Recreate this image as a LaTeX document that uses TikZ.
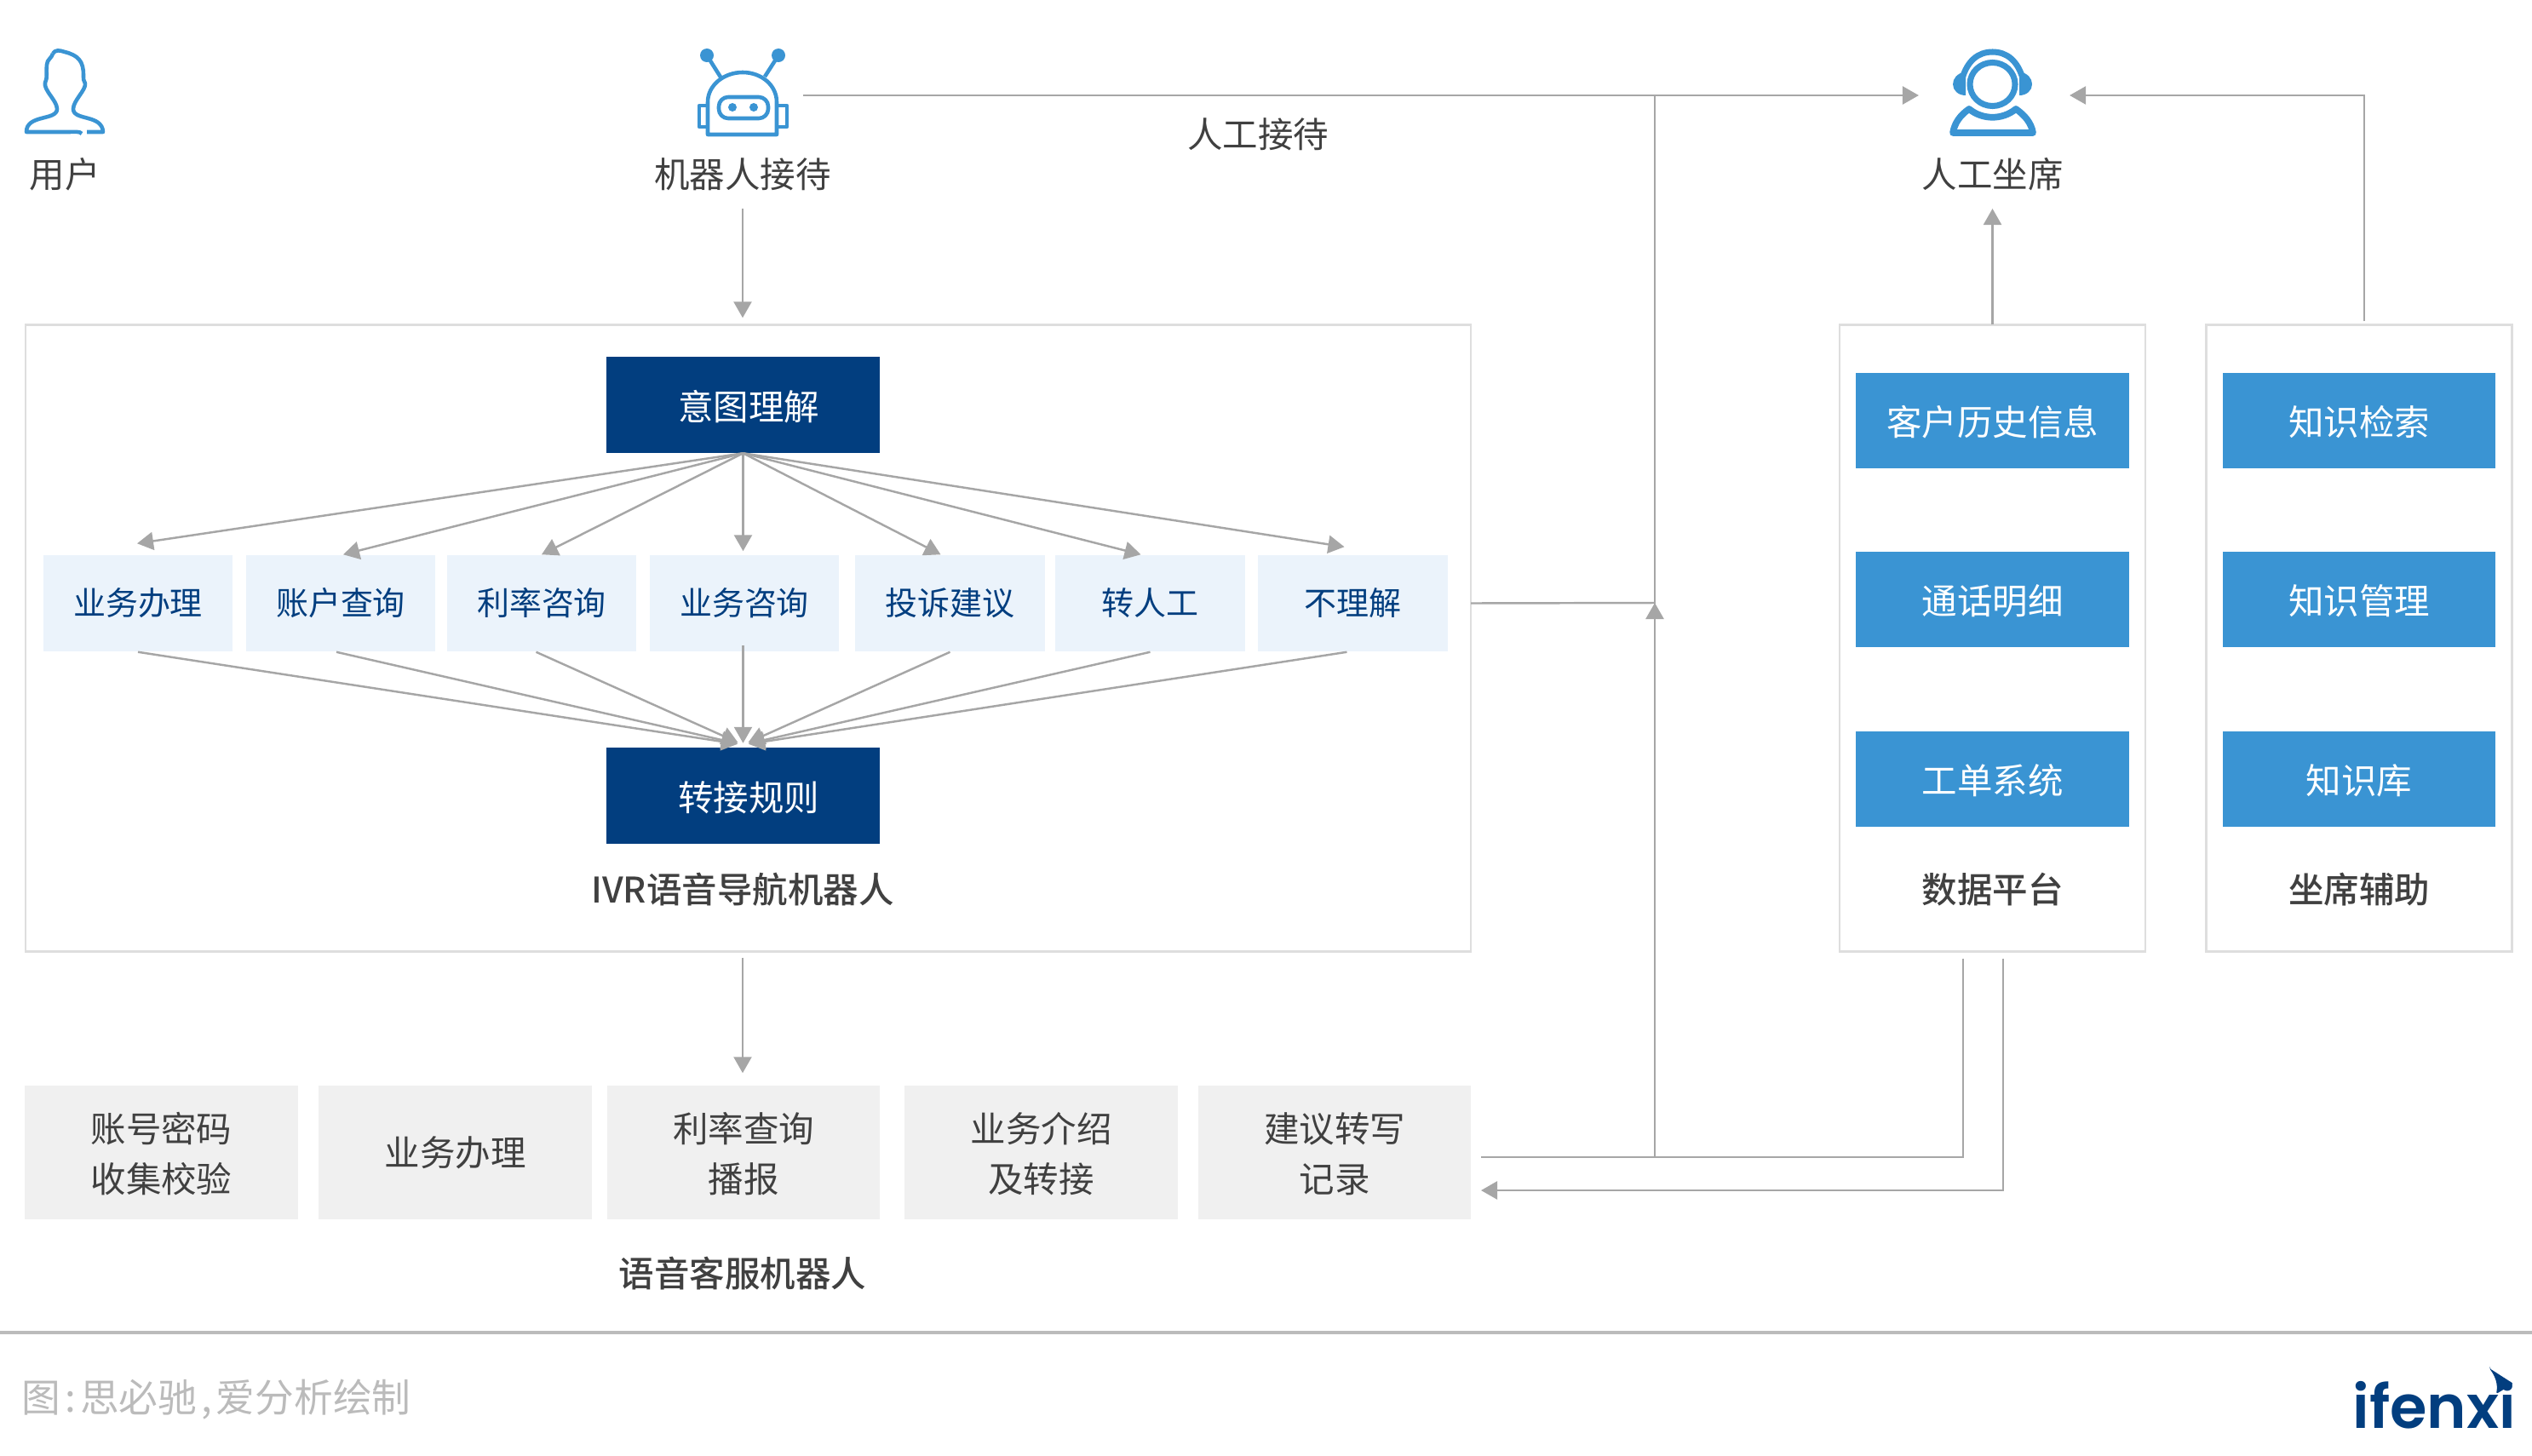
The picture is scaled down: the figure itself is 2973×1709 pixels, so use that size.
\documentclass[tikz,border=0pt]{standalone}
\usepackage{fontspec}
\setmainfont{Noto Sans CJK SC}
\newfontfamily\titlefont{Noto Sans CJK SC Medium}
\newfontfamily\logofont{Poppins SemiBold}
\usetikzlibrary{arrows.meta}
\definecolor{navy}{HTML}{023E7F}
\definecolor{paleblue}{HTML}{EBF3FB}
\definecolor{midblue}{HTML}{3A94D3}
\definecolor{palegray}{HTML}{F0F0F0}
\definecolor{edgegray}{HTML}{DEDEDE}
\definecolor{linegray}{HTML}{A6A6A6}
\definecolor{inkgray}{HTML}{404040}
\definecolor{notegray}{HTML}{BBBBBB}
\begin{document}
\begin{tikzpicture}[x=0.01cm,y=-0.01cm,
  line/.style={draw=linegray,line width=0.7pt},
  conn/.style={line,-{Triangle[length=0.19cm,width=0.21cm]}},
  label/.style={inner sep=0pt,text=inkgray,font=\fontsize{11.8pt}{14pt}\selectfont},
  title/.style={label,font=\titlefont\fontsize{11.8pt}{14pt}\selectfont},
  frame/.style={draw=edgegray,line width=0.7pt,fill=white,inner sep=0pt,outer sep=0pt},
  navybox/.style={fill=navy,text=white,inner sep=0pt,text height=0.4cm,text depth=0.05cm,minimum width=3.2cm,minimum height=1.12cm,font=\fontsize{11.8pt}{14pt}\selectfont},
  palebox/.style={fill=paleblue,text=navy,inner sep=0pt,minimum width=2.22cm,minimum height=1.13cm,font=\fontsize{10.8pt}{14pt}\selectfont},
  bluebox/.style={fill=midblue,text=white,inner sep=0pt,text height=0.4cm,text depth=0.05cm,minimum width=3.2cm,minimum height=1.12cm,font=\fontsize{11.8pt}{14pt}\selectfont},
  graybox/.style={fill=palegray,text=inkgray,inner sep=0pt,align=center,minimum width=3.2cm,minimum height=1.57cm,font=\fontsize{11.8pt}{16.8pt}\selectfont},
  icon/.style={draw=midblue,line width=1.3pt,line join=round}]
  \useasboundingbox (0,0) rectangle (2973,1709);

  % frames
  \node[frame,minimum width=16.96cm,minimum height=7.36cm] (ivr) at (878.5,749.5) {};
  \node[frame,minimum width=3.59cm,minimum height=7.36cm] (data) at (2339.5,749.5) {};
  \node[frame,minimum width=3.59cm,minimum height=7.36cm] (assist) at (2770,749.5) {};

  % user icon
  \draw[icon] (62,63) .. controls (65,58) and (70,59) .. (76,61) .. controls (92,65) and (98,72) .. (98,88)
    .. controls (98,93) and (98,95) .. (100,98) .. controls (101,106) and (86,118) .. (86,128)
    .. controls (86,142) and (120,134) .. (121,155) -- (102,155);
  \draw[icon] (96,157) .. controls (94,154) and (88,155) .. (80,155) -- (31,155) .. controls (31,134) and (67,142) .. (67,128)
    .. controls (67,118) and (51,106) .. (53,97) .. controls (56,92) and (54,85) .. (55,76) .. controls (55,70) and (61,68) .. (62,63);
  \node[label] (user) at (76,205) {用户};

  % robot icon
  \coordinate (robot) at (872,112);
  \draw[icon] (831,158) -- (831,120) .. controls (831,100) and (850,85) .. (872,85) .. controls (894,85) and (912,100) .. (912,120) -- (912,158) -- cycle;
  \draw[icon] (831,124) -- (821,124) -- (821,149) -- (831,149);
  \draw[icon] (912,124) -- (924,124) -- (924,149) -- (912,149);
  \draw[icon] (847,92) -- (830,65);
  \draw[icon] (898,90) -- (914,65);
  \fill[midblue] (830,65) circle (0.08cm);
  \fill[midblue] (914,65) circle (0.08cm);
  \draw[icon,rounded corners=0.11cm] (844,114) rectangle (902,139);
  \fill[midblue] (860,126) circle (0.05cm);
  \fill[midblue] (885,126) circle (0.05cm);
  \node[label] (botlabel) at (872,205) {机器人接待};

  % agent icon
  \coordinate (agent) at (2339.5,112);
  \draw[icon,line width=2pt] (2339.5,99) ellipse (0.265cm and 0.255cm);
  \draw[icon,line width=2pt] (2304,92) .. controls (2310,72) and (2322,61) .. (2339.5,61) .. controls (2357,61) and (2369,72) .. (2375,92);
  \fill[midblue] (2308,84) .. controls (2298,86) and (2293,92) .. (2293,99) .. controls (2293,106) and (2299,112) .. (2308,112) -- cycle;
  \fill[midblue] (2371,84) .. controls (2381,86) and (2386,92) .. (2386,99) .. controls (2386,106) and (2380,112) .. (2371,112) -- cycle;
  \draw[icon,line width=2.2pt] (2293,156) .. controls (2295,144) and (2302,135) .. (2312,128) .. controls (2328,141) and (2351,141) .. (2367,128) .. controls (2377,135) and (2385,144) .. (2387,156) -- cycle;
  \node[label] (agentlabel) at (2339.5,205) {人工坐席};

  % top arrows
  \draw[conn] ([xshift=0.71cm]robot) -- ([xshift=-0.865cm]agent);
  \node[label] (manual) at (1477,158) {人工接待};
  \draw[conn,shorten <=0.2cm,shorten >=0.08cm] (botlabel.south) -- (botlabel.south |- ivr.north);
  \draw[conn,shorten >=0.2cm] (data.north) -- (agentlabel.south);
  \draw[conn] ([xshift=0.06cm,yshift=0.04cm]assist.north) |- ([xshift=0.905cm]agent);

  % inside ivr
  \node[navybox] (intent) at (872.5,475.5) {\hspace{0.13cm}意图理解};
  \node[palebox] (b1) at (162,708.5) {业务办理};
  \node[palebox] (b2) at (400,708.5) {账户查询};
  \node[palebox] (b3) at (636,708.5) {利率咨询};
  \node[palebox] (b4) at (874,708.5) {业务咨询};
  \node[palebox] (b5) at (1115.5,708.5) {投诉建议};
  \node[palebox] (b6) at (1350.5,708.5) {转人工};
  \node[palebox] (b7) at (1588.5,708.5) {不理解};
  \node[navybox] (rule) at (872.5,934.5) {\hspace{0.13cm}转接规则};
  \node[title] (ivrlabel) at (872,1045) {IVR语音导航机器人};
  \coordinate (merge) at ([yshift=0.03cm]rule.north);

  \draw[conn] (intent.south) -- ([xshift=-0.01cm,yshift=0.13cm]b1.north);
  \draw[conn] (intent.south) -- ([xshift=0.03cm]b2.north);
  \draw[conn] (intent.south) -- (b3.north);
  \draw[conn,shorten >=0.04cm] (intent.south) -- (intent.south |- b4.north);
  \draw[conn] (intent.south) -- ([xshift=-0.11cm]b5.north);
  \draw[conn] (intent.south) -- ([xshift=-0.11cm]b6.north);
  \draw[conn] (intent.south) -- ([xshift=-0.1cm,yshift=0.09cm]b7.north);

  \draw[conn,shorten >=0.065cm] (b1.south) -- (merge);
  \draw[conn,shorten >=0.065cm] ([xshift=-0.05cm]b2.south) -- (merge);
  \draw[conn,shorten >=0.065cm] ([xshift=-0.065cm]b3.south) -- (merge);
  \draw[conn,shorten <=-0.08cm,shorten >=0.02cm] (merge |- b4.south) -- (merge);
  \draw[conn,shorten >=0.065cm] (b5.south) -- (merge);
  \draw[conn,shorten >=0.065cm] (b6.south) -- (merge);
  \draw[conn,shorten >=0.065cm] ([xshift=-0.07cm]b7.south) -- (merge);

  % inside data and assist
  \node[bluebox] (d1) at (2339.5,494) {客户历史信息};
  \node[bluebox] (d2) at (2339.5,704) {通话明细};
  \node[bluebox] (d3) at (2339.5,915) {工单系统};
  \node[title] (datalabel) at (2339.5,1045) {数据平台};
  \node[bluebox] (k1) at (2770,494) {知识检索};
  \node[bluebox] (k2) at (2770,704) {知识管理};
  \node[bluebox] (k3) at (2770,915) {知识库};
  \node[title] (assistlabel) at (2770,1045) {坐席辅助};

  % bottom row
  \node[graybox] (g1) at (189.5,1353.5) {\rule{0pt}{0.385cm}账号密码\\收集校验};
  \node[graybox] (g2) at (534.5,1353.5) {业务办理};
  \node[graybox] (g3) at (873,1353.5) {\rule{0pt}{0.385cm}利率查询\\播报};
  \node[graybox] (g4) at (1222.5,1353.5) {\rule{0pt}{0.385cm}业务介绍\\及转接};
  \node[graybox] (g5) at (1567,1353.5) {\rule{0pt}{0.385cm}建议转写\\记录};
  \node[title] (gtitle) at (872,1496) {语音客服机器人};
  \draw[conn,shorten <=0.07cm,shorten >=0.14cm] (botlabel.south |- ivr.south) -- (botlabel.south |- g3.north);

  % bus on the right
  \coordinate (bustop) at (1943,112);
  \coordinate (busmid) at (1943,708);
  \coordinate (busbot) at (1943,1359);
  \coordinate (hin) at (1739,1359);
  \coordinate (hout) at (1739,1398);
  \draw[line] (bustop) -- (busbot);
  \draw[conn] (busbot) -- (busmid);
  \draw[line] (ivr.east |- b7.east) -- (busmid);
  \draw[line] ([xshift=-0.345cm,yshift=-0.08cm]data.south) |- (hin);
  \draw[conn] ([xshift=0.125cm,yshift=-0.08cm]data.south) |- (hout);

  % footer
  \coordinate (ruleleft) at (0,1565);
  \coordinate (ruleright) at (2973,1565);
  \draw[draw=notegray,line width=1pt] (ruleleft) -- (ruleright);
  \node[anchor=west,inner sep=0pt,text=notegray,font=\fontsize{13pt}{15pt}\selectfont] (note) at (25,1644) {图\hspace{0.05cm}:\hspace{0.05cm}思必驰\hspace{0.05cm},\hspace{0.05cm}爱分析绘制};
  \node[anchor=base west,inner sep=0pt,text=navy,font=\logofont\fontsize{20pt}{22pt}\selectfont] (logo) at (2762,1677) {ifenxi};
  \fill[navy,rounded corners=0.02cm] (2923,1607) -- (2951,1625) -- (2931,1637) .. controls (2933,1625) and (2930,1617) .. cycle;
\end{tikzpicture}
\end{document}
